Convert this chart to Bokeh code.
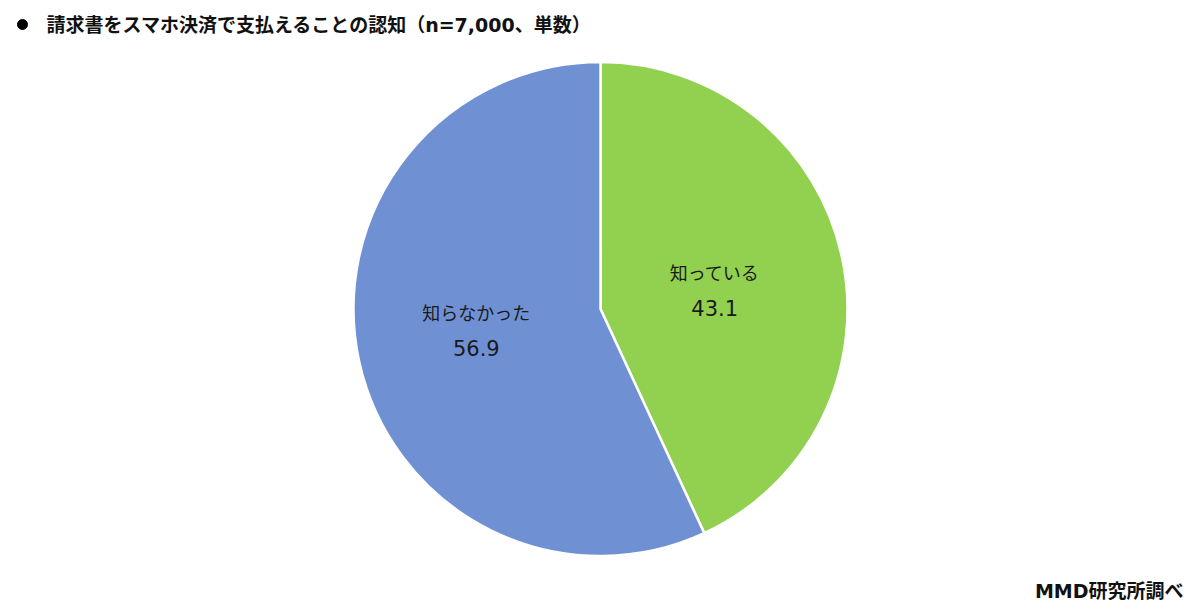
import math
from bokeh.plotting import figure
from bokeh.models import ColumnDataSource, Label
from bokeh.core.properties import value
from bokeh.embed import file_html
from bokeh.resources import INLINE

categories = ["知っている", "知らなかった"]
values = [43.1, 56.9]
colors = ["#92D050", "#6F91D3"]

title_text = "請求書をスマホ決済で支払えることの認知（n=7,000、単数）"
source_text = "MMD研究所調べ"

W, H = 1184, 600
p = figure(width=W, height=H, x_range=(0, W), y_range=(0, H),
           output_backend="svg", toolbar_location=None, min_border=0,
           outline_line_color=None)
p.axis.visible = False
p.grid.visible = False
p.background_fill_color = "white"
p.border_fill_color = "white"

cx, cy, R = 600, 291.5, 247
total = sum(values)
starts, ends, lx, ly = [], [], [], []
a = math.pi / 2
for c, v in zip(categories, values):
    span = v / total * 2 * math.pi
    s, e = a, a - span
    starts.append(s)
    ends.append(e)
    mid = (s + e) / 2
    lx.append(cx + 0.494 * R * math.cos(mid) - 5)
    ly.append(cy + 0.372 * R * math.sin(mid) - 1)
    a = e

src = ColumnDataSource(dict(start=starts, end=ends, color=colors,
                            x=lx, y=ly, cat=categories,
                            val=[f"{v:.1f}" for v in values]))
p.wedge(x=cx, y=cy, radius=R, start_angle="start", end_angle="end",
        direction="clock", fill_color="color", line_color="white",
        line_width=2.5, source=src)

p.text(x="x", y="y", text="cat", source=src, y_offset=-18,
       text_align="center", text_baseline="middle",
       text_font=value("Noto Sans CJK JP"), text_font_size="18px",
       text_color="#1a1a1a")
p.text(x="x", y="y", text="val", source=src, y_offset=18,
       text_align="center", text_baseline="middle",
       text_font=value("DejaVu Sans"), text_font_size="21px",
       text_color="#1a1a1a")

p.scatter(x=[22], y=[H - 24], size=10, marker="circle",
          fill_color="black", line_color="black")
p.add_layout(Label(x=46, y=H - 24, x_units="data", y_units="data",
                   text=title_text,
                   text_font="DejaVu Sans, Noto Sans CJK JP",
                   text_font_style="bold", text_font_size="19px",
                   text_baseline="middle", text_color="#111111"))
p.add_layout(Label(x=W - 1, y=H - 590, text=source_text,
                   text_font="DejaVu Sans, Noto Sans CJK JP",
                   text_font_style="bold",
                   text_font_size="19px", text_align="right",
                   text_baseline="middle", text_color="#111111"))

open("out.html", "w").write(file_html(p, INLINE))
